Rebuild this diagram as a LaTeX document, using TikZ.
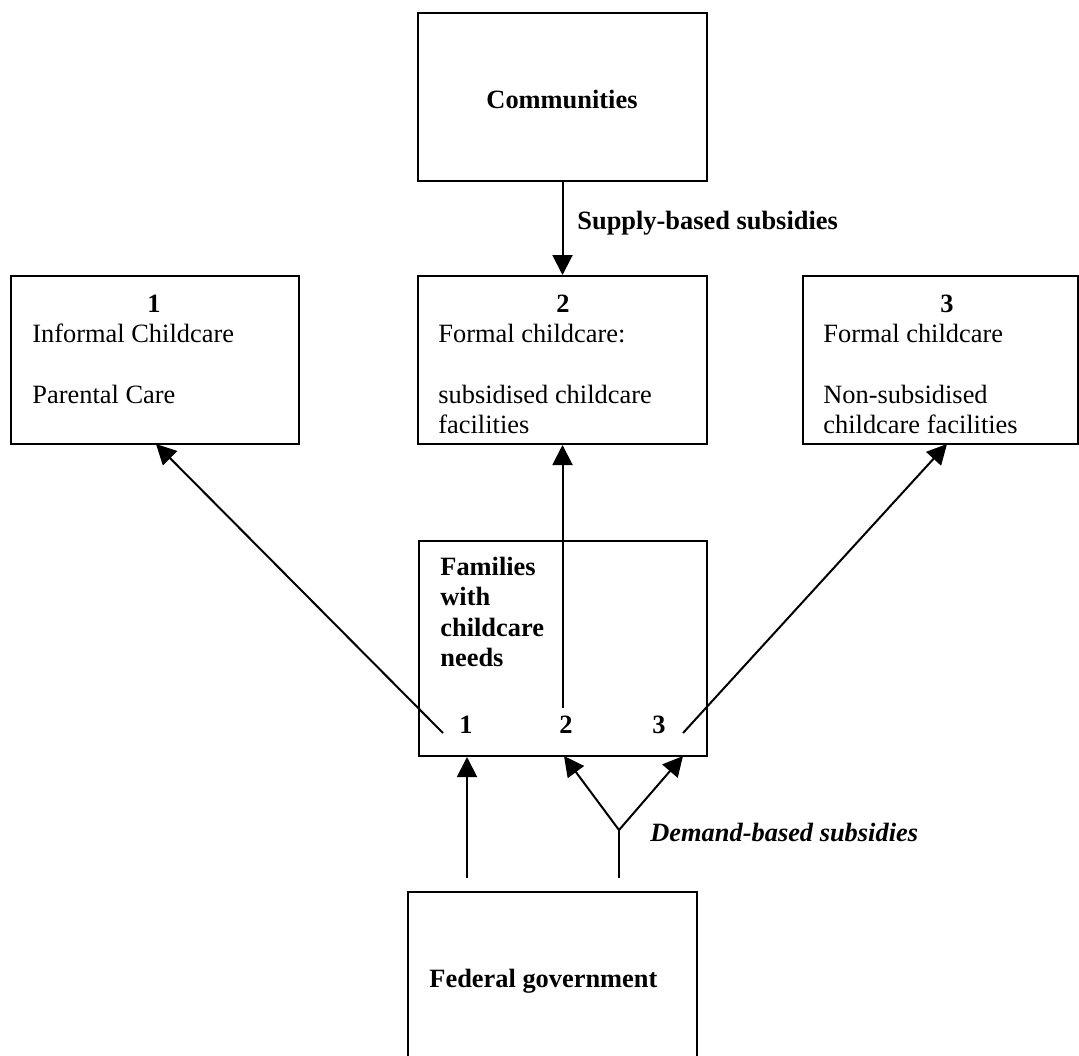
\documentclass[tikz,border=0pt]{standalone}
\usepackage{fontspec}
\setmainfont{Liberation Serif}
\usetikzlibrary{arrows.meta}
\begin{document}
\begin{tikzpicture}[x=0.5pt,y=-0.5pt,
  boxn/.style={draw, line width=1pt, rectangle, inner sep=0},
  txt/.style={inner sep=0, anchor=base west, font=\fontsize{13.2}{15.25}\selectfont},
  ctxt/.style={inner sep=0, anchor=base, font=\fontsize{13.2}{15.25}\selectfont\bfseries},
  bf/.style={txt, font=\fontsize{13.2}{15.25}\selectfont\bfseries},
  arr/.style={line width=1pt, -{Triangle[length=10pt,width=10pt]}},
  ln/.style={line width=1pt}]
\useasboundingbox (0,0) rectangle (1079,1055);
\clip (0,0) rectangle (1079,1055);
% boxes
\node[boxn, minimum width=144.5pt, minimum height=84pt] (comm) at (562.5,97) {};
\node[boxn, minimum width=144pt, minimum height=84pt] (b1) at (155,360) {};
\node[boxn, minimum width=144.5pt, minimum height=84pt] (b2) at (562.5,360) {};
\node[boxn, minimum width=137.5pt, minimum height=84pt] (b3) at (940.5,360) {};
\node[boxn, minimum width=144pt, minimum height=107.5pt] (fam) at (563,648.5) {};
\node[boxn, minimum width=144.5pt, minimum height=110pt] (fed) at (552.5,1002) {};
% texts
\node[ctxt] (commt) at (562,108) {Communities};
\node[bf] (sup) at (577,229) {Supply-based subsidies};
\node[ctxt] (n1) at (154,312) {1};
\node[txt] (b1a) at (32,342) {Informal Childcare};
\node[txt] (b1b) at (32,403) {Parental Care};
\node[ctxt] (n2) at (563,312) {2};
\node[txt] (b2a) at (438,342) {Formal childcare:};
\node[txt] (b2b) at (438,403) {subsidised childcare};
\node[txt] (b2c) at (438,433.5) {facilities};
\node[ctxt] (n3) at (947,312) {3};
\node[txt] (b3a) at (823,342) {Formal childcare};
\node[txt] (b3b) at (823,403) {Non-subsidised};
\node[txt] (b3c) at (823,433.5) {childcare facilities};
\node[bf] (fa) at (440,575) {Families};
\node[bf] (fb) at (440,605.5) {with};
\node[bf] (fc) at (440,636) {childcare};
\node[bf] (fd) at (440,666.5) {needs};
\node[ctxt] (f1) at (466,733) {1};
\node[ctxt] (f2) at (566,733) {2};
\node[ctxt] (f3) at (659,733) {3};
\node[txt, font=\fontsize{13.2}{15.25}\selectfont\bfseries\itshape] (dem) at (650,841) {Demand-based subsidies};
\node[bf] (fedt) at (429,987) {Federal government};
% coordinates
\coordinate (a1) at (443,733);
\coordinate (t1) at (156,444);
\coordinate (a2) at (562.5,708);
\coordinate (a3) at (683,733);
\coordinate (t3) at (947,444);
\coordinate (g1) at (467,878);
\coordinate (g2) at (619,878);
\coordinate (j) at (619,830);
\coordinate (e2) at (564,756);
\coordinate (e3) at (683,756);
% connectors
\draw[arr] (comm.south) -- (b2.north);
\draw[arr] (a1) -- (t1);
\draw[arr] (a2) -- (b2.south);
\draw[arr] (a3) -- (t3);
\draw[arr] (g1) -- (fam.south -| g1);
\draw[ln] (g2) -- (j);
\draw[arr] (j) -- (e2);
\draw[arr] (j) -- (e3);
\end{tikzpicture}
\end{document}
